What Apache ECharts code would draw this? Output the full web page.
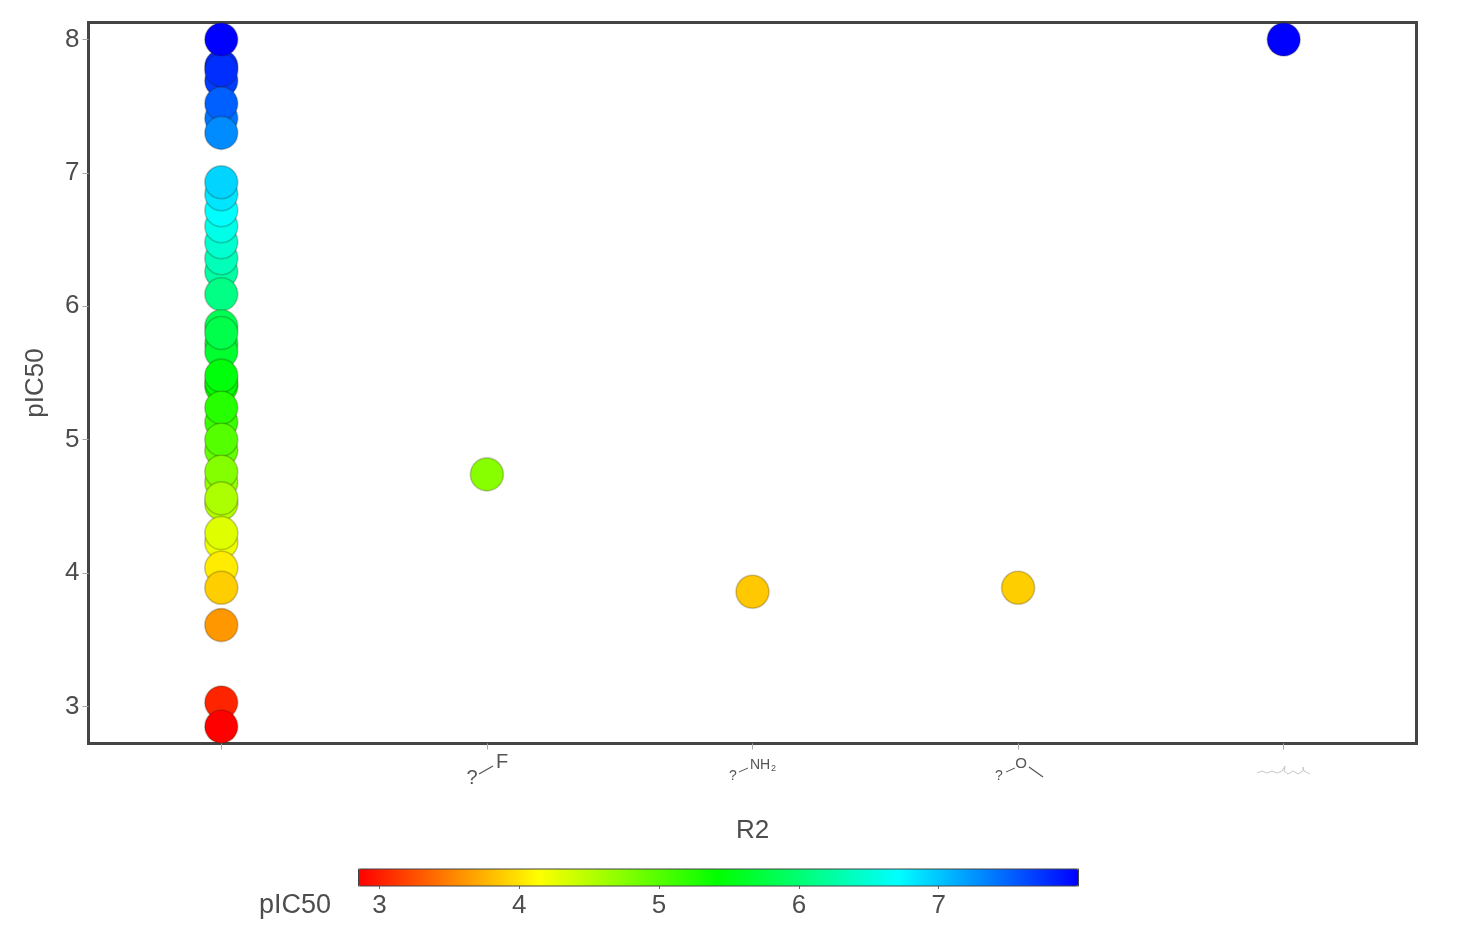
<!DOCTYPE html>
<html>
<head>
<meta charset="utf-8">
<script src="https://cdn.jsdelivr.net/npm/echarts@6/dist/echarts.min.js"></script>
<style>html,body{margin:0;padding:0;background:#fff}#c{width:1458px;height:946px}#c canvas{filter:blur(0.55px)}</style>
</head>
<body>
<div id="c"></div>
<script>
var categories = ["", "F", "NH2", "OMe", "chain"];
var yTicks = [3, 4, 5, 6, 7, 8];
var barTicks = [3, 4, 5, 6, 7];
// draw order matters: later values sit on top of earlier ones
var valuesR2None = [7.69, 7.8, 7.77, 8.0, 7.41, 7.52, 7.3,
  6.26, 6.36, 6.48, 6.6, 6.72, 6.84, 6.93, 6.09,
  5.85, 5.72, 5.66, 5.8, 5.4, 5.43, 5.48, 5.13, 5.24, 4.92, 5.0,
  4.68, 4.76, 4.52, 4.56, 4.23, 4.3, 4.04, 3.89, 3.61, 3.03, 2.85];
var valuesR2F = [4.74];
var valuesR2NH2 = [3.86];
var valuesR2OMe = [3.89];
var valuesR2Chain = [8.0];
var rainbow = ['#ff0000', '#ffff00', '#00ff00', '#00ffff', '#0000ff'];

var ink = '#4d4d4d';
var font = 'Liberation Sans';
var points = [];
[valuesR2None, valuesR2F, valuesR2NH2, valuesR2OMe, valuesR2Chain].forEach(function (vals, i) {
  vals.forEach(function (v) { points.push([i, v]); });
});

function ln(x1, y1, x2, y2, c, w) {
  return { type: 'line', shape: { x1: x1, y1: y1, x2: x2, y2: y2 }, style: { stroke: c || '#555', lineWidth: w || 1.3 }, silent: true };
}
function tx(t, x, y, size, c, align) {
  return { type: 'text', x: x, y: y, style: { text: t, fontSize: size, fontFamily: font, fill: c || '#555', align: align || 'center', verticalAlign: 'middle' }, silent: true };
}

var chart = echarts.init(document.getElementById('c'), null, { renderer: 'canvas' });
chart.setOption({
  backgroundColor: '#fff',
  animation: false,
  grid: [
    { left: 88.5, top: 22.5, width: 1328, height: 721, show: true, borderColor: '#444', borderWidth: 3, backgroundColor: '#fff' },
    { left: 358.5, top: 869, width: 720, height: 17, show: true, borderColor: '#444', borderWidth: 1, backgroundColor: 'transparent', z: 10 }
  ],
  xAxis: [
    {
      type: 'category', data: categories, gridIndex: 0,
      name: 'R2', nameLocation: 'middle', nameGap: 74,
      nameTextStyle: { fontSize: 26, color: ink, fontFamily: font },
      axisLine: { show: false },
      axisTick: { show: true, alignWithLabel: true, length: 6, lineStyle: { color: '#aaa', width: 1 } },
      axisLabel: { show: false },
      splitLine: { show: false }
    },
    {
      type: 'value', gridIndex: 1, min: 2.85, max: 8,
      axisLine: { show: false },
      axisTick: { show: true, length: 3, inside: false, customValues: barTicks, lineStyle: { color: '#666' } },
      axisLabel: { show: true, customValues: barTicks, fontSize: 26, color: ink, fontFamily: font, margin: 7 },
      splitLine: { show: false }
    }
  ],
  yAxis: [
    {
      type: 'value', gridIndex: 0, min: 2.7226, max: 8.1274,
      name: 'pIC50', nameLocation: 'middle', nameGap: 40,
      nameTextStyle: { fontSize: 26, color: ink, fontFamily: font },
      axisLine: { show: false },
      axisTick: { show: true, length: 6, customValues: yTicks, lineStyle: { color: '#aaa' } },
      axisLabel: { customValues: yTicks, fontSize: 26, color: ink, fontFamily: font, margin: 9 },
      splitLine: { show: false }
    },
    { type: 'value', gridIndex: 1, min: 0, max: 1, show: false }
  ],
  visualMap: {
    type: 'continuous', seriesIndex: 0, min: 2.85, max: 8,
    orient: 'horizontal', left: 358.5, top: 869, padding: 0,
    itemWidth: 17, itemHeight: 720, calculable: false, realtime: false,
    text: null, showLabel: false, hoverLink: false,
    inRange: { color: rainbow }
  },
  series: [{
    type: 'scatter', xAxisIndex: 0, yAxisIndex: 0, data: points,
    symbol: 'circle', symbolSize: 33, clip: false,
    itemStyle: { opacity: 1, borderColor: 'rgba(40,30,0,0.24)', borderWidth: 1.6 }
  }],
  graphic: [
    tx('pIC50', 331, 906, 27, ink, 'right'),
    tx('?', 472, 778, 20),
    ln(479, 774, 493, 766),
    tx('F', 502, 762, 20),
    tx('?', 733, 776, 14),
    ln(739, 772, 748, 768, '#555', 1),
    tx('NH', 750, 765, 14, '#555', 'left'),
    tx('2', 771, 769, 9, '#555', 'left'),
    tx('?', 999, 776, 14),
    ln(1006, 772, 1015, 768, '#555', 1),
    tx('O', 1021, 764, 15),
    ln(1029, 767, 1043, 777, '#555', 1.3),
    {
      type: 'polyline', silent: true,
      shape: { points: [[1257, 773], [1262, 771], [1267, 773], [1272, 771], [1277, 773], [1282, 771], [1285, 766], [1284, 771], [1288, 774], [1293, 771], [1298, 774], [1303, 771], [1303, 767], [1304, 771], [1310, 774]] },
      style: { stroke: '#c8c8c8', lineWidth: 1, fill: 'none' }
    }
  ]
});
</script>
</body>
</html>
